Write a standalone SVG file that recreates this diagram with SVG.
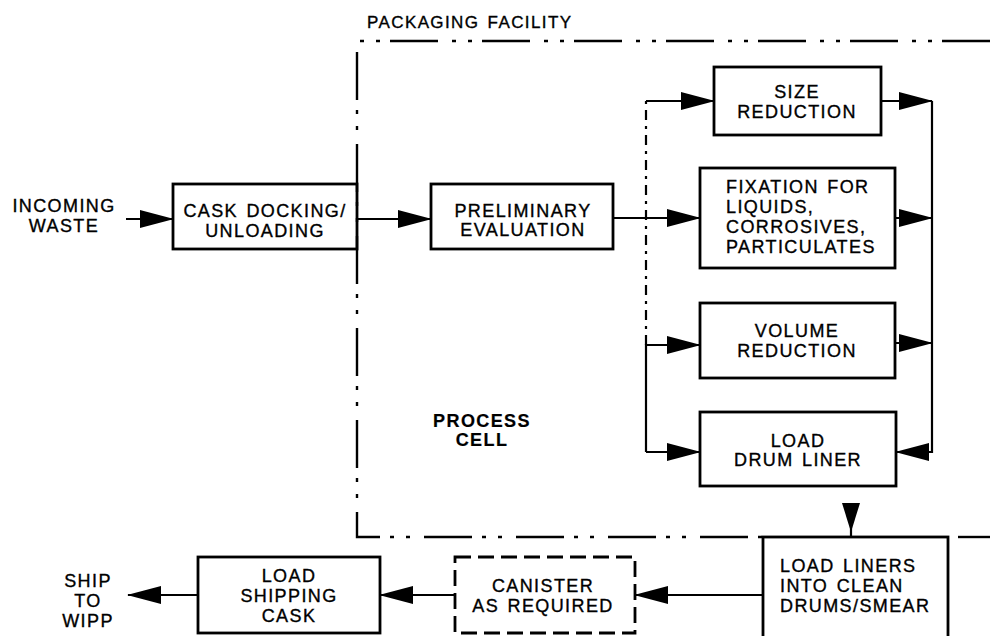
<svg xmlns="http://www.w3.org/2000/svg" width="990" height="636" viewBox="0 0 990 636">
<defs>
<marker id="ah" markerWidth="34" markerHeight="20" refX="33" refY="9" orient="auto" markerUnits="userSpaceOnUse">
<path d="M0,0 L34,9 L0,18 Z" fill="#000"/>
</marker>
<style>
text{font-family:"Liberation Sans",Arial,sans-serif;font-size:18px;letter-spacing:1.4px;word-spacing:2px;fill:#000;stroke:#000;stroke-width:0.35}
.c{text-anchor:middle}
.b{font-weight:bold;stroke-width:0.2}
.box{fill:none;stroke:#000;stroke-width:2.8}
.dbox{fill:none;stroke:#000;stroke-width:2.8;stroke-dasharray:16 7}
.ln{fill:none;stroke:#000;stroke-width:2.2}
.bd{fill:none;stroke:#000;stroke-width:2.4;stroke-dasharray:48 10 4 12 4 14}
.dl{fill:none;stroke:#000;stroke-width:2.2;stroke-dasharray:10 6 3 6}
</style>
</defs>
<rect width="990" height="636" fill="#fff"/>

<g id="facility">
<path class="bd" d="M990,41 H357 V537 H763"/>
<path class="bd" d="M958,537 H990"/>
<text x="367" y="28" style="font-size:17px;letter-spacing:1.4px">PACKAGING FACILITY</text>
</g>

<g id="process-cell">
<text class="c b" x="482" y="427">PROCESS</text>
<text class="c b" x="482" y="446">CELL</text>
</g>

<g id="incoming">
<text class="c" x="64" y="212">INCOMING</text>
<text class="c" x="64" y="232">WASTE</text>
</g>

<g id="cask-docking">
<rect class="box" x="173" y="184" width="184" height="65"/>
<text class="c" x="265" y="217">CASK DOCKING/</text>
<text class="c" x="265" y="237">UNLOADING</text>
</g>

<g id="preliminary">
<rect class="box" x="431" y="184" width="182" height="65"/>
<text class="c" x="523" y="217">PRELIMINARY</text>
<text class="c" x="523" y="236">EVALUATION</text>
</g>

<g id="size-reduction">
<rect class="box" x="714" y="67" width="167" height="68"/>
<text class="c" x="797" y="98">SIZE</text>
<text class="c" x="797" y="118">REDUCTION</text>
</g>

<g id="fixation">
<rect class="box" x="700" y="168" width="195" height="100"/>
<text x="726" y="193">FIXATION FOR</text>
<text x="726" y="213">LIQUIDS,</text>
<text x="726" y="233">CORROSIVES,</text>
<text x="726" y="253">PARTICULATES</text>
</g>

<g id="volume-reduction">
<rect class="box" x="700" y="303" width="195" height="75"/>
<text class="c" x="797" y="337">VOLUME</text>
<text class="c" x="797" y="357">REDUCTION</text>
</g>

<g id="load-drum-liner">
<rect class="box" x="700" y="412" width="196" height="74"/>
<text class="c" x="798" y="447">LOAD</text>
<text class="c" x="798" y="466">DRUM LINER</text>
</g>

<g id="load-liners">
<rect class="box" x="763" y="537" width="185" height="110"/>
<text x="780" y="572">LOAD LINERS</text>
<text x="780" y="592">INTO CLEAN</text>
<text x="780" y="612">DRUMS/SMEAR</text>
</g>

<g id="canister">
<rect class="dbox" x="455" y="557" width="180" height="76"/>
<text class="c" x="543" y="592">CANISTER</text>
<text class="c" x="543" y="612">AS REQUIRED</text>
</g>

<g id="load-shipping-cask">
<rect class="box" x="198" y="557" width="182" height="76"/>
<text class="c" x="289" y="582">LOAD</text>
<text class="c" x="289" y="602">SHIPPING</text>
<text class="c" x="289" y="622">CASK</text>
</g>

<g id="ship-to-wipp">
<text class="c" x="88" y="587">SHIP</text>
<text class="c" x="88" y="607">TO</text>
<text class="c" x="88" y="627">WIPP</text>
</g>

<g id="connectors">
<path class="ln" d="M126,219 H173" marker-end="url(#ah)"/>
<path class="ln" d="M357,219 H431" marker-end="url(#ah)"/>
<path class="ln" d="M613,218 H700" marker-end="url(#ah)"/>
<path class="dl" d="M646,345 V101"/>
<path class="ln" d="M646,101 H714" marker-end="url(#ah)"/>
<path class="ln" d="M646,452 V345 H700" marker-end="url(#ah)"/>
<path class="ln" d="M646,452 H700" marker-end="url(#ah)"/>
<path class="ln" d="M881,101 H932" marker-end="url(#ah)"/>
<path class="ln" d="M895,218 H932" marker-end="url(#ah)"/>
<path class="ln" d="M895,343 H932" marker-end="url(#ah)"/>
<path class="ln" d="M932,101 V452 H896" marker-end="url(#ah)"/>
<path class="ln" d="M851,503 V537"/>
<path d="M842,503 L860,503 L851,532 Z" fill="#000"/>
<path class="ln" d="M763,595 H635" marker-end="url(#ah)"/>
<path class="ln" d="M455,595 H380" marker-end="url(#ah)"/>
<path class="ln" d="M198,595 H128" marker-end="url(#ah)"/>
</g>
</svg>
